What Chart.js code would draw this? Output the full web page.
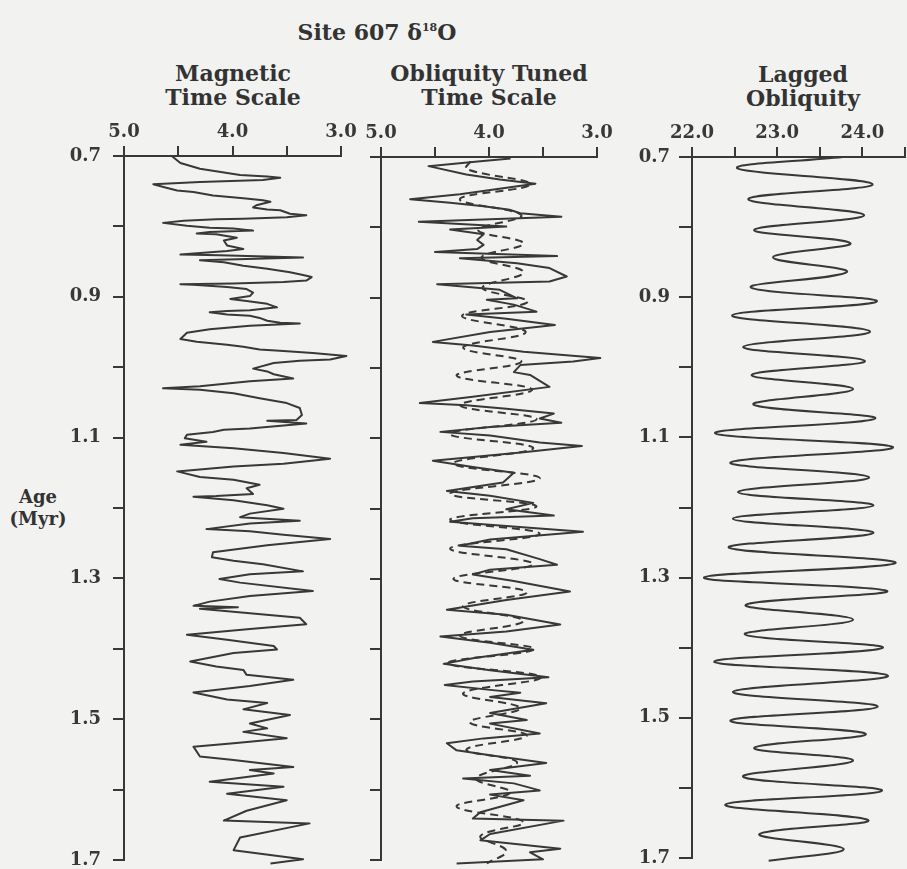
<!DOCTYPE html>
<html>
<head>
<meta charset="utf-8">
<title>Site 607 d18O</title>
<script src="https://cdn.jsdelivr.net/npm/chart.js@4.4.0/dist/chart.umd.min.js"></script>
<style>
  body { margin: 0; width: 907px; height: 869px; position: relative; overflow: hidden;
         background: #f2f2f0; font-family: "DejaVu Serif", serif; color: #333; }
  .lbl { position: absolute; transform: translateX(-50%); text-align: center;
         font-weight: bold; white-space: nowrap; }
  .lbl sup { font-size: 11px; vertical-align: 9px; line-height: 0; }
  canvas { position: absolute; }
</style>
</head>
<body>
<div class="lbl" style="left:377px; top:19px; font-size:22px;">Site 607 &delta;<sup>18</sup>O</div>
<div class="lbl" style="left:233px; top:61px; font-size:22px; line-height:24px;">Magnetic<br>Time Scale</div>
<div class="lbl" style="left:489px; top:61px; font-size:22px; line-height:24px;">Obliquity Tuned<br>Time Scale</div>
<div class="lbl" style="left:803px; top:62px; font-size:22px; line-height:24px;">Lagged<br>Obliquity</div>
<div class="lbl" style="left:38px; top:486px; font-size:18px; line-height:22px;">Age<br>(Myr)</div>

<canvas id="magChart" width="300" height="790" style="left:60px; top:100px;"></canvas>
<canvas id="tunedChart" width="275" height="790" style="left:345px; top:100px;"></canvas>
<canvas id="oblChart" width="287" height="790" style="left:620px; top:100px;"></canvas>

<script>
// d18O on the magnetic (paleomag) time scale
const magAge = [
  0.700,0.710,0.718,0.727,0.729,0.731,0.734,0.737,0.740,0.745,
  0.749,0.751,0.756,0.760,0.763,0.765,0.770,0.773,0.776,0.777,
  0.782,0.784,0.787,0.789,0.790,0.792,0.795,0.799,0.802,0.803,
  0.806,0.808,0.810,0.811,0.816,0.820,0.827,0.832,0.835,0.840,
  0.841,0.844,0.848,0.851,0.856,0.860,0.865,0.869,0.872,0.877,
  0.879,0.881,0.882,0.883,0.886,0.889,0.894,0.899,0.901,0.903,
  0.906,0.910,0.915,0.919,0.920,0.922,0.925,0.927,0.930,0.934,
  0.937,0.938,0.941,0.946,0.951,0.960,0.964,0.968,0.971,0.975,
  0.977,0.980,0.984,0.989,0.991,0.994,1.002,1.006,1.010,1.016,
  1.020,1.027,1.030,1.032,1.037,1.044,1.051,1.058,1.068,1.075,
  1.076,1.080,1.087,1.089,1.092,1.096,1.101,1.106,1.110,1.115,
  1.122,1.130,1.137,1.141,1.148,1.156,1.160,1.167,1.172,1.180,
  1.183,1.184,1.189,1.196,1.201,1.208,1.213,1.218,1.222,1.230,
  1.233,1.238,1.244,1.253,1.263,1.270,1.275,1.280,1.290,1.294,
  1.301,1.306,1.318,1.325,1.333,1.339,1.341,1.343,1.356,1.365,
  1.372,1.380,1.387,1.396,1.401,1.406,1.418,1.425,1.430,1.437,
  1.444,1.453,1.462,1.472,1.477,1.486,1.494,1.506,1.513,1.518,
  1.527,1.534,1.539,1.553,1.558,1.568,1.572,1.577,1.589,1.596,
  1.606,1.615,1.630,1.644,1.648,1.668,1.686,1.699,1.705
];
const magD18O = [
  4.56,4.48,4.30,3.93,3.68,3.56,3.72,4.30,4.73,4.61,
  4.51,4.36,4.18,3.90,3.72,3.65,3.78,3.81,3.68,3.56,
  3.47,3.32,3.50,3.90,4.15,4.45,4.64,4.42,4.21,3.99,
  3.81,4.21,4.33,4.15,3.96,4.08,4.05,3.90,4.05,4.48,
  4.12,3.35,4.30,4.08,3.90,3.68,3.47,3.35,3.27,3.32,
  3.53,3.99,4.48,4.36,4.05,3.87,3.81,3.84,3.93,4.02,
  3.87,3.68,3.59,3.84,4.05,4.21,4.05,3.84,3.75,3.68,
  3.56,3.38,3.84,4.21,4.42,4.48,4.33,4.05,3.90,3.75,
  3.53,3.26,2.95,3.10,3.38,3.62,3.81,3.68,3.62,3.44,
  3.84,4.30,4.64,4.30,3.99,3.75,3.50,3.38,3.36,3.41,
  3.68,3.32,3.84,4.08,4.18,4.42,4.44,4.24,4.48,3.99,
  3.53,3.10,3.53,3.99,4.51,4.30,3.99,3.75,3.87,3.81,
  4.15,4.36,3.99,3.68,3.53,3.84,3.93,3.38,3.84,4.24,
  3.84,3.53,3.10,3.68,4.18,4.19,3.99,3.72,3.35,3.84,
  4.12,3.93,3.26,3.84,4.21,4.36,3.95,4.30,3.38,3.32,
  3.84,4.42,4.05,3.62,3.59,3.99,4.39,4.15,3.90,3.87,
  3.44,3.84,4.36,4.05,3.68,3.90,3.47,3.84,3.68,3.90,
  3.50,3.99,4.36,4.30,3.99,3.44,3.84,3.62,4.21,3.53,
  4.05,3.50,3.87,4.08,3.29,3.93,3.99,3.35,3.65
];

// d18O on the obliquity tuned time scale
const tunedAge = [
  0.702,0.706,0.713,0.725,0.732,0.738,0.753,0.760,0.765,0.770,
  0.775,0.780,0.785,0.792,0.799,0.803,0.810,0.818,0.825,0.831,
  0.835,0.841,0.844,0.851,0.858,0.870,0.877,0.881,0.889,0.901,
  0.903,0.910,0.920,0.924,0.930,0.939,0.949,0.963,0.968,0.977,
  0.986,0.991,0.996,1.006,1.010,1.027,1.041,1.050,1.053,1.058,
  1.065,1.072,1.078,1.084,1.091,1.096,1.106,1.111,1.120,1.132,
  1.141,1.149,1.163,1.175,1.182,1.192,1.201,1.210,1.214,1.219,
  1.225,1.233,1.244,1.253,1.258,1.272,1.280,1.287,1.294,1.303,
  1.318,1.330,1.344,1.351,1.365,1.375,1.382,1.391,1.401,1.413,
  1.421,1.430,1.440,1.446,1.451,1.458,1.462,1.468,1.477,1.491,
  1.501,1.506,1.520,1.527,1.534,1.544,1.551,1.562,1.572,1.580,
  1.584,1.591,1.601,1.607,1.615,1.632,1.641,1.644,1.663,1.672,
  1.684,1.689,1.699,1.705
];
const tunedD18O = [
  3.80,4.08,4.56,4.21,3.90,3.57,4.27,4.73,4.36,4.05,
  3.81,3.71,3.33,4.65,3.84,4.36,4.05,4.11,4.05,4.11,
  4.50,3.37,4.27,3.74,3.44,3.28,3.44,4.48,3.90,3.74,
  4.02,3.77,3.56,4.21,3.84,3.39,3.99,4.52,4.15,3.68,
  2.97,3.22,3.71,3.77,3.62,3.44,4.15,4.64,4.21,3.84,
  3.40,3.53,3.33,3.99,4.45,3.99,3.53,3.14,3.68,4.52,
  4.15,3.77,3.87,4.39,3.99,3.59,3.84,3.40,4.15,4.36,
  3.84,3.13,3.99,4.27,3.84,3.53,3.37,3.99,4.15,3.77,
  3.25,3.84,4.39,3.84,3.34,3.84,4.45,3.99,3.59,4.15,
  4.42,3.99,3.45,4.15,4.41,3.99,3.71,3.99,3.47,3.99,
  3.65,3.99,3.53,4.05,4.39,4.30,3.99,3.47,3.99,3.62,
  4.24,3.77,3.53,3.99,3.68,4.08,4.15,3.31,3.99,4.08,
  3.34,3.62,3.50,4.30
];

// scaled obliquity target (dashed), turning points only
const targetAge = [
  0.706,0.717,0.739,0.760,0.783,0.804,0.823,0.843,0.864,0.886,
  0.906,0.926,0.949,0.971,0.991,1.011,1.031,1.053,1.073,1.094,
  1.114,1.136,1.157,1.179,1.197,1.216,1.236,1.257,1.279,1.300,
  1.319,1.339,1.360,1.381,1.400,1.420,1.440,1.463,1.484,1.504,
  1.523,1.543,1.561,1.584,1.604,1.624,1.646,1.666,1.687,1.705
];
const targetD18O = [
  4.17,4.21,3.62,4.27,3.70,4.10,3.68,4.07,3.68,4.06,
  3.64,4.25,3.66,4.24,3.70,4.30,3.60,4.27,3.56,4.36,
  3.59,4.33,3.53,4.36,3.56,4.36,3.53,4.36,3.59,4.33,
  3.65,4.24,3.68,4.27,3.58,4.38,3.52,4.24,3.71,4.18,
  3.65,4.21,3.74,4.12,3.80,4.30,3.68,4.08,3.84,4.02
];

// lagged obliquity (degrees), turning points only
const oblAge = [
  0.700,0.716,0.739,0.760,0.783,0.804,0.823,0.843,0.864,0.886,
  0.906,0.926,0.949,0.971,0.991,1.011,1.031,1.053,1.073,1.094,
  1.114,1.136,1.157,1.178,1.197,1.216,1.236,1.257,1.279,1.300,
  1.319,1.339,1.360,1.381,1.400,1.420,1.440,1.463,1.484,1.504,
  1.523,1.543,1.561,1.584,1.604,1.624,1.646,1.666,1.687,1.704
];
const oblValue = [
  23.77,22.53,24.12,22.66,24.02,22.73,23.86,22.95,23.82,22.69,
  24.17,22.47,24.09,22.60,24.03,22.70,23.89,22.72,24.15,22.27,
  24.36,22.45,24.08,22.54,24.13,22.48,24.13,22.43,24.39,22.14,
  24.29,22.63,23.89,22.62,24.24,22.26,24.30,22.48,24.18,22.45,
  24.04,22.73,23.89,22.60,24.23,22.39,24.07,22.79,23.78,22.90
];

const ink = '#383838';
const tickFont = { family: 'DejaVu Serif', size: 18, weight: 'bold' };

function points(xs, ys) {
  return ys.map((y, i) => ({ x: xs[i], y: y }));
}

function ageAxis(showLabels, width, tickLen, pad) {
  return {
    type: 'linear',
    position: 'left',
    min: 0.7,
    max: 1.7,
    reverse: true,
    border: { display: true, color: ink, width: 2 },
    grid: { drawOnChartArea: false, drawTicks: true, tickLength: tickLen, color: ink, lineWidth: 2 },
    ticks: {
      stepSize: 0.1,
      autoSkip: false,
      color: ink,
      font: tickFont,
      padding: pad,
      callback: v => {
        const k = Math.round(v * 10);
        return showLabels && k % 2 === 1 ? (k / 10).toFixed(1) : '';
      }
    },
    afterFit: s => { s.width = width; s.paddingTop = 0; s.paddingBottom = 0; }
  };
}

function valueAxis(min, max, reverse, height) {
  return {
    type: 'linear',
    position: 'top',
    min: min,
    max: max,
    reverse: reverse,
    border: { display: true, color: ink, width: 2 },
    grid: { drawOnChartArea: false, drawTicks: true, tickLength: 10, color: ink, lineWidth: 2 },
    ticks: {
      stepSize: 0.5,
      autoSkip: false,
      maxRotation: 0,
      color: ink,
      font: tickFont,
      padding: 3,
      callback: v => Math.abs(v - Math.round(v)) < 1e-6 ? v.toFixed(1) : ''
    },
    afterFit: s => { s.height = height; s.paddingLeft = 0; s.paddingRight = 0; }
  };
}

function panel(id, datasets, xAxis, yAxis, padRight, padBottom) {
  return new Chart(document.getElementById(id), {
    type: 'scatter',
    data: { datasets: datasets },
    options: {
      responsive: false,
      animation: false,
      events: [],
      layout: { autoPadding: false, padding: { left: 0, top: 0, right: padRight, bottom: padBottom } },
      plugins: { legend: { display: false }, tooltip: { enabled: false } },
      scales: { x: xAxis, y: yAxis }
    }
  });
}

const solid = {
  showLine: true,
  borderColor: ink,
  borderWidth: 2,
  borderJoinStyle: 'round',
  pointRadius: 0,
  tension: 0,
  clip: 12
};

panel('magChart',
  [Object.assign({ data: points(magD18O, magAge) }, solid)],
  valueAxis(3.0, 5.0, true, 56), ageAxis(true, 64, 11, 12), 19, 30);

panel('tunedChart',
  [
    Object.assign({ data: points(tunedD18O, tunedAge) }, solid),
    Object.assign({ data: points(targetD18O, targetAge) }, solid,
      { borderDash: [8, 5], tension: 0.4, borderWidth: 2 })
  ],
  valueAxis(3.0, 5.0, true, 57), ageAxis(false, 36, 11, 4), 23, 30);

panel('oblChart',
  [Object.assign({ data: points(oblValue, oblAge) }, solid, { tension: 0.4 })],
  valueAxis(22.0, 24.5, false, 57), ageAxis(true, 72, 13, 9), 2, 32);
</script>
</body>
</html>
